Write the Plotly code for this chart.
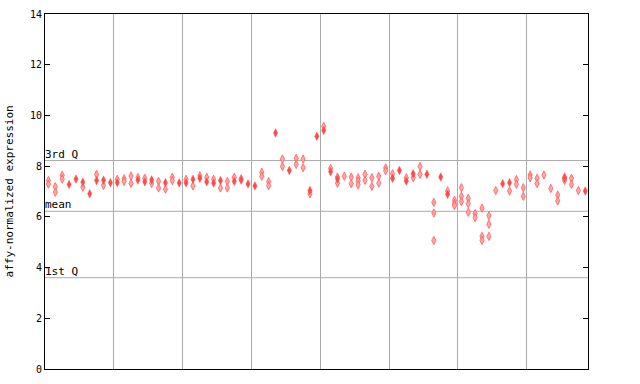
import plotly.graph_objects as go

# Solid (overlapping) markers: sample index and expression value
solid_idx = [3, 4, 5, 6, 7, 8, 9, 10, 13, 14, 15, 17, 19, 20, 21, 22, 23, 24, 25, 27, 28, 29, 30,
             33, 35, 38, 39, 40, 41, 42, 50, 51, 52, 53, 55, 57, 58, 66, 67, 75, 78]
solid_val = [7.28, 7.49, 7.37, 6.91, 7.43, 7.45, 7.35, 7.35, 7.45, 7.38, 7.46, 7.35, 7.34, 7.34, 7.48,
             7.52, 7.38, 7.33, 7.43, 7.40, 7.45, 7.30, 7.22,
             9.31, 7.83, 7.04, 9.18, 9.41, 7.78, 7.49, 7.52, 7.83, 7.41, 7.70, 7.68, 7.57, 6.89,
             7.31, 7.35, 7.52, 7.02]

# Light (hatched) markers
light_idx = [0, 0, 1, 1, 2, 2, 5, 7, 8, 10, 11, 11, 12, 12, 13, 14, 15, 16, 16, 17, 18, 18, 20, 21,
             22, 23, 24, 25, 26, 26, 27, 28, 31, 31, 32, 32, 34, 34, 36, 36, 37, 37, 38, 40, 41,
             42, 42, 43, 44, 44, 45, 45, 45, 46, 46, 47, 47, 48, 48, 49, 49, 50, 52, 53, 54, 54,
             56, 56, 56, 58, 59, 59, 59, 60, 60, 60, 61, 61, 61, 62, 62, 63, 63, 63, 64, 64, 64,
             65, 67, 68, 68, 69, 69, 70, 70, 71, 71, 72, 73, 74, 74, 75, 75, 76, 76, 77]
light_val = [7.43, 7.29, 7.19, 6.97, 7.64, 7.49, 7.17, 7.67, 7.24, 7.48, 7.50, 7.40, 7.61, 7.32, 7.55,
             7.52, 7.32, 7.40, 7.14, 7.09, 7.56, 7.43, 7.48, 7.22,
             7.62, 7.56, 7.48, 7.14, 7.40, 7.14, 7.56, 7.50, 7.76, 7.60, 7.39, 7.23, 8.28, 7.99,
             8.31, 8.07, 8.28, 7.94, 6.91, 9.57, 7.91,
             7.57, 7.33, 7.60, 7.57, 7.31, 7.54, 7.41, 7.26, 7.68, 7.44, 7.54, 7.20, 7.60, 7.33,
             7.93, 7.82, 7.70, 7.54, 7.54, 7.99, 7.68,
             6.57, 6.15, 5.07, 7.02, 6.65, 6.52, 6.44, 7.15, 6.81, 6.60, 6.73, 6.52, 6.18, 6.13,
             5.97, 6.34, 5.23, 5.07, 6.05, 5.71, 5.23,
             7.04, 7.02, 7.47, 7.28, 7.15, 6.81, 7.65, 7.54, 7.52, 7.31, 7.65, 7.12, 6.86, 6.63,
             7.57, 7.44, 7.52, 7.28, 7.04]

# Summary statistics lines
stat_names = ["3rd Q", "mean", "1st Q"]
stat_vals = [8.22, 6.22, 3.60]

y_ticks = [0, 2, 4, 6, 8, 10, 12, 14]
x_grid = [9.5, 19.5, 29.5, 39.5, 49.5, 59.5, 69.5]

mono = "DejaVu Sans Mono"

fig = go.Figure()
fig.add_trace(go.Scatter(
    x=light_idx, y=light_val, mode="markers",
    marker=dict(symbol="diamond-tall", size=6, color="#ffa6a6",
                line=dict(width=0.8, color="#ff6060")),
    showlegend=False, hoverinfo="y"))
fig.add_trace(go.Scatter(
    x=solid_idx, y=solid_val, mode="markers",
    marker=dict(symbol="diamond-tall", size=6, color="#ff4a4a",
                line=dict(width=0.5, color="#ff4a4a")),
    showlegend=False, hoverinfo="y"))

for name, v in zip(stat_names, stat_vals):
    fig.add_shape(type="line", xref="paper", x0=0, x1=1, yref="y", y0=v, y1=v,
                  line=dict(color="#aaaaaa", width=1), layer="below")
    fig.add_annotation(xref="paper", x=0, yref="y", y=v, text=name, showarrow=False,
                       xanchor="left", yanchor="bottom", yshift=-2, xshift=-2,
                       font=dict(family=mono, size=11, color="black"))

fig.add_annotation(xref="paper", yref="paper", x=-0.0645, y=0.5,
                   text="affy-normalized expression", textangle=-90, showarrow=False,
                   xanchor="center", yanchor="middle",
                   font=dict(family=mono, size=11, color="black"))

fig.update_layout(
    width=640, height=384,
    margin=dict(l=45, r=52, t=14, b=15, autoexpand=False),
    paper_bgcolor="white", plot_bgcolor="white",
    xaxis=dict(range=[-0.5, 78.4], tickvals=x_grid, showticklabels=False, ticks="",
               showgrid=True, gridcolor="#aaaaaa", gridwidth=1, zeroline=False,
               showline=True, linecolor="black", linewidth=1, mirror=True, automargin=False),
    yaxis=dict(range=[0, 14], tickvals=y_ticks, ticks="inside", ticklen=5, tickcolor="black",
               showgrid=False, zeroline=False, showline=True, linecolor="black", linewidth=1,
               mirror="ticks", automargin=False,
               tickfont=dict(family=mono, size=10, color="black")),
)

# remove the default 8px page margin so the figure fills the window exactly
fig.write_html("out.html", config={"displayModeBar": False},
               post_script="document.body.style.margin='0';document.body.style.overflow='hidden';")
